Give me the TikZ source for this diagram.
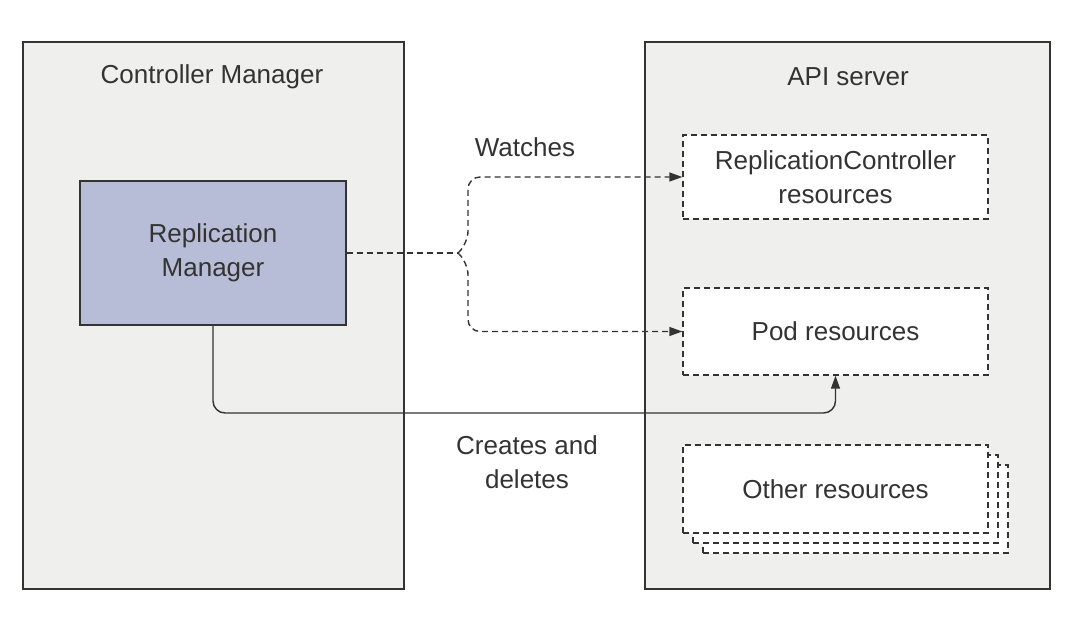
\documentclass[tikz,border=0pt]{standalone}
\usepackage{fontspec}
\setmainfont{Liberation Sans}
\usetikzlibrary{arrows.meta}

\definecolor{panelgray}{HTML}{EFEFEE}
\definecolor{mgrblue}{HTML}{B8BDD7}
\definecolor{linegray}{HTML}{333333}

\begin{document}
\begin{tikzpicture}[x=1pt,y=-1pt,
        panel/.style={draw=linegray,line width=1.4pt,fill=panelgray,minimum width=#1},
        resource/.style={draw=linegray,line width=1.4pt,dash pattern=on 6pt off 4pt,fill=white,minimum width=305pt},
        watch/.style={draw=linegray,line width=1.4pt,dash pattern=on 6pt off 4pt},
        create/.style={draw=linegray,line width=1.4pt},
        every node/.style={font=\fontsize{26}{34}\selectfont,text=linegray,align=center,inner sep=0pt}]

    \useasboundingbox (0,0) rectangle (1072,622);

    \begin{scope}
        \node[panel=381pt,minimum height=547pt] (cm) at (213.5,315.5) {};
        \node[panel=405pt,minimum height=547pt] (api) at (847.5,315.5) {};
        \node (cmtitle) at (212,77) {Controller Manager};
        \node (apititle) at (848,77) {API server};

        \node[draw=linegray,line width=1.4pt,fill=mgrblue,minimum width=266pt,minimum height=144pt] (rm) at (213,253) {Replication\\Manager};

        \node[resource,minimum height=84pt] (rc) at (835.5,177) {ReplicationController\\resources};
        \node[resource,minimum height=87pt] (pod) at (835.5,331.5) {Pod resources};
        \node[resource,minimum height=88pt] (other3) at (855.5,509) {};
        \node[resource,minimum height=88pt] (other2) at (845.5,499) {};
        \node[resource,minimum height=88pt] (other) at (835.5,489) {Other resources};
    \end{scope}

    \coordinate (jn) at (458,253);
    \coordinate (bend) at (835.5,413);

    \begin{scope}[>={Triangle[length=13pt,width=9pt]}]
        \path [watch] (rm.east) -- (jn);
        \path [watch,->,rounded corners=12pt] (jn) -- (468,243) |- (rc.west);
        \path [watch,->,rounded corners=12pt] (jn) -- (468,263) |- (pod.west);

        \path [create,->,rounded corners=12pt] (rm.south) |- (bend) -- (pod.south);
    \end{scope}

    \node (watchlbl) at (525,147) {Watches};
    \node (createlbl) at (527,462) {Creates and\\deletes};

\end{tikzpicture}
\end{document}
